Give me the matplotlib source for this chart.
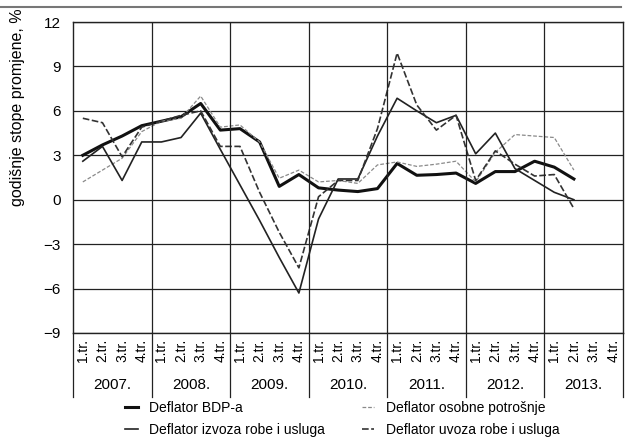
import matplotlib
matplotlib.use("Agg")
import matplotlib.pyplot as plt
from matplotlib.lines import Line2D
from matplotlib import transforms

plt.rcParams['font.family'] = ['Liberation Sans Narrow', 'Liberation Sans', 'DejaVu Sans']

# quarterly data, 2007 Q1 .. 2013 Q2
years = ["2007.", "2008.", "2009.", "2010.", "2011.", "2012.", "2013."]
quarters = ["1.tr.", "2.tr.", "3.tr.", "4.tr."]

bdp = [3.0, 3.7, 4.3, 5.0, 5.3, 5.6, 6.5, 4.7, 4.8, 3.9, 0.9, 1.7,
       0.8, 0.65, 0.55, 0.75, 2.45, 1.65, 1.7, 1.8, 1.1, 1.9, 1.9, 2.6, 2.2, 1.4]
osobna = [1.2, 2.0, 2.8, 4.6, 5.3, 5.5, 7.0, 4.9, 5.05, 3.9, 1.45, 2.0,
          1.2, 1.3, 1.1, 2.35, 2.55, 2.25, 2.4, 2.6, 1.2, 3.2, 4.4, 4.3, 4.2, 2.0]
izvoz = [2.6, 3.6, 1.3, 3.9, 3.9, 4.2, 5.85, 3.4, 1.0, -1.4, -3.9, -6.3,
         -1.3, 1.4, 1.4, 4.3, 6.85, 6.0, 5.2, 5.7, 3.1, 4.5, 2.1, 1.3, 0.5, 0.0]
uvoz = [5.5, 5.2, 2.9, 4.9, 5.3, 5.7, 6.0, 3.6, 3.6, 0.5, -2.2, -4.6,
        0.2, 1.3, 1.3, 4.8, 9.9, 6.4, 4.7, 5.7, 1.3, 3.3, 2.4, 1.6, 1.7, -0.6]

x = [i + 0.5 for i in range(len(bdp))]

fig = plt.figure(figsize=(6.3, 4.46), dpi=100)
ax = fig.add_axes([73 / 630, 1 - 333 / 446, 550 / 630, 311 / 446])

h_bdp, = ax.plot(x, bdp, color="#111111", lw=2.2)
h_os, = ax.plot(x, osobna, color="#8a8a8a", lw=0.9, ls=(0, (3, 1.5)))
h_iz, = ax.plot(x, izvoz, color="#222222", lw=1.2)
h_uv, = ax.plot(x, uvoz, color="#333333", lw=1.2, ls=(0, (4, 1.5)))

ax.set_xlim(0, 28)
ax.set_ylim(-9, 12)
ax.set_yticks(range(-9, 13, 3))
ax.set_yticklabels([str(v).replace("-", "\u2212") for v in range(-9, 13, 3)], fontsize=11)
ax.tick_params(axis="y", length=0, pad=9)

ax.set_xticks(x + [26.5, 27.5])
ax.set_xticklabels(quarters * 7, rotation=90, fontsize=10)
ax.tick_params(axis="x", length=0, pad=4)

ax.grid(axis="y", color="#222222", lw=0.9)
for k in range(1, 7):
    ax.axvline(4 * k, color="#222222", lw=0.9)

for s in ax.spines.values():
    s.set_color("#222222")
    s.set_linewidth(1.0)

# year row under the quarter labels
trans = transforms.blended_transform_factory(ax.transData, ax.transAxes)
for k, y in enumerate(years):
    ax.text(4 * k + 2, -0.168, y, transform=trans, ha="center", va="center", fontsize=11)
for k in range(0, 8):
    ax.plot([4 * k, 4 * k], [0, -0.205], transform=trans, color="#222222",
            lw=0.9, clip_on=False)

ax.set_ylabel("godišnje stope promjene, %", fontsize=11.5)
ax.yaxis.set_label_coords(-0.088, 0.725)

# rule at the top of the page
fig.add_artist(Line2D([0, 0.985], [1 - 7 / 446, 1 - 7 / 446], color="#777777", lw=1.5))

fig.legend([h_bdp, h_iz, h_os, h_uv],
           ["Deflator BDP-a", "Deflator izvoza robe i usluga",
            "Deflator osobne potrošnje", "Deflator uvoza robe i usluga"],
           ncol=2, loc="upper left", bbox_to_anchor=(125 / 630, 1 - 401 / 446),
           borderaxespad=0, borderpad=0, frameon=False, fontsize=10,
           handlelength=0.9, handletextpad=0.8, columnspacing=2.7, labelspacing=0.55)

fig.savefig("out.png", dpi=100)
